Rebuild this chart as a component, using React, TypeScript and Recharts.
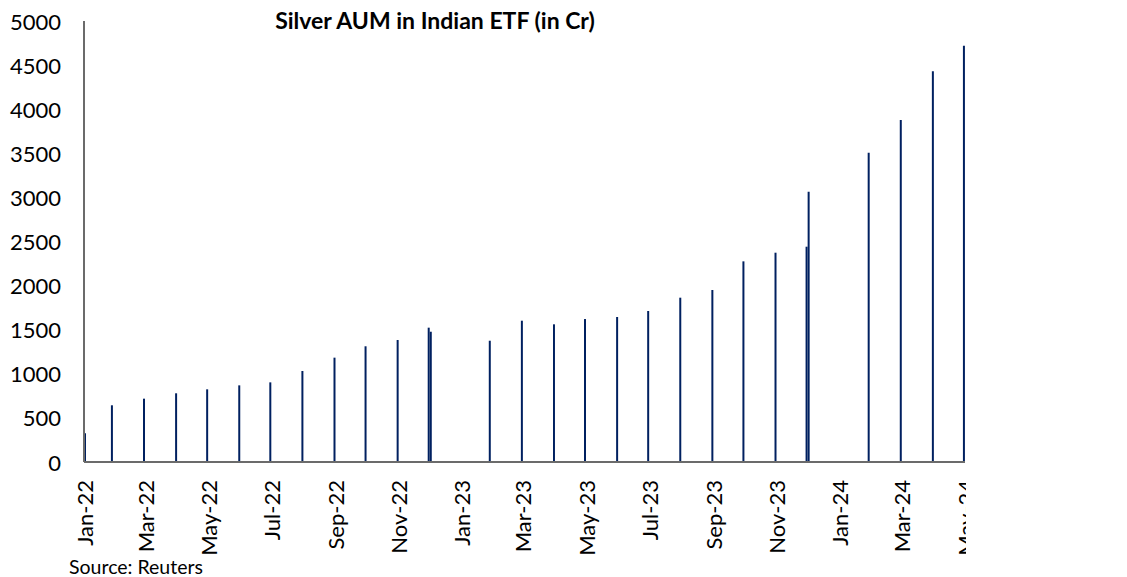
import React from "react";
import { BarChart, Bar, XAxis, YAxis } from "recharts";

// Observation dates (bars) and Silver AUM values (in Cr)
const obsDates = [
  "2022-01-02", "2022-01-28", "2022-02-28", "2022-03-31", "2022-04-30", "2022-05-31",
  "2022-06-30", "2022-07-31", "2022-08-31", "2022-09-30", "2022-10-31", "2022-11-30",
  "2022-12-02", "2023-01-28", "2023-02-28", "2023-03-31", "2023-04-30", "2023-05-31",
  "2023-06-30", "2023-07-31", "2023-08-31", "2023-09-30", "2023-10-31", "2023-11-30",
  "2023-12-02", "2024-01-29", "2024-02-29", "2024-03-31", "2024-04-30",
];
const aumValues = [
  325, 643, 718, 779, 824, 869,
  903, 1032, 1183, 1312, 1383, 1523,
  1477, 1375, 1602, 1561, 1621, 1644,
  1712, 1863, 1950, 2275, 2373, 2441,
  3065, 3507, 3878, 4430, 4720,
];
const xTickDates = [
  "2022-01-01", "2022-03-01", "2022-05-01", "2022-07-01", "2022-09-01", "2022-11-01",
  "2023-01-01", "2023-03-01", "2023-05-01", "2023-07-01", "2023-09-01", "2023-11-01",
  "2024-01-01", "2024-03-01", "2024-05-01",
];
const yTicks = [0, 500, 1000, 1500, 2000, 2500, 3000, 3500, 4000, 4500, 5000];
const monthNames = ["Jan", "Feb", "Mar", "Apr", "May", "Jun", "Jul", "Aug", "Sep", "Oct", "Nov", "Dec"];

const TITLE = "Silver AUM in Indian ETF (in Cr)";
const SOURCE = "Source: Reuters";

const toTs = (s: string) => {
  const [y, m, d] = s.split("-").map(Number);
  return Date.UTC(y, m - 1, d);
};
const fmt = (t: number) => {
  const d = new Date(t);
  return `${monthNames[d.getUTCMonth()]}-${String(d.getUTCFullYear()).slice(2)}`;
};

const data = obsDates.map((d, i) => ({ t: toTs(d), v: aumValues[i] }));
const xTicks = xTickDates.map(toTs);

const FONT = "Lato, 'Open Sans', sans-serif";
const AXIS_COLOR = "#6b6b6b";
const BAR_COLOR = "#002060";

const XTick = (props: any) => {
  const { x, payload } = props;
  const y0 = 480;
  return (
    <text
      x={x}
      y={y0}
      transform={`rotate(-90, ${x}, ${y0})`}
      textAnchor="end"
      dominantBaseline="central"
      fontFamily={FONT}
      fontSize={22}
      fill="#000"
    >
      {fmt(payload.value)}
    </text>
  );
};

const YTick = (props: any) => {
  const { y, payload } = props;
  return (
    <text
      x={61}
      y={y}
      textAnchor="end"
      dominantBaseline="central"
      fontFamily={FONT}
      fontSize={22}
      fill="#000"
    >
      {payload.value}
    </text>
  );
};

export default function App() {
  return (
    <div
      style={{
        position: "absolute",
        left: 0,
        top: 0,
        width: 1127,
        height: 577,
        background: "#fff",
        fontFamily: FONT,
        overflow: "hidden",
      }}
    >
      <div style={{ position: "absolute", left: 0, top: 0 }}>
        <BarChart
          width={966}
          height={577}
          data={data}
          margin={{ top: 21, right: 1, bottom: 0, left: 0 }}
        >
          <XAxis
            dataKey="t"
            type="number"
            domain={[xTicks[0], xTicks[xTicks.length - 1]]}
            ticks={xTicks}
            interval={0}
            height={115}
            tickLine={false}
            axisLine={{ stroke: AXIS_COLOR, strokeWidth: 2 }}
            tick={<XTick />}
            allowDataOverflow
          />
          <YAxis
            type="number"
            domain={[0, 5000]}
            ticks={yTicks}
            interval={0}
            width={84}
            tickLine={false}
            axisLine={{ stroke: AXIS_COLOR, strokeWidth: 2 }}
            tick={<YTick />}
          />
          <Bar dataKey="v" fill={BAR_COLOR} barSize={2} isAnimationActive={false} />
        </BarChart>
      </div>
      <div
        style={{
          position: "absolute",
          left: 435,
          top: 9,
          transform: "translateX(-50%)",
          fontSize: 23,
          lineHeight: 1,
          fontWeight: 700,
          whiteSpace: "nowrap",
          color: "#000",
        }}
      >
        {TITLE}
      </div>
      <div
        style={{
          position: "absolute",
          left: 69,
          top: 557,
          fontSize: 19.5,
          lineHeight: 1,
          whiteSpace: "nowrap",
          color: "#000",
        }}
      >
        {SOURCE}
      </div>
    </div>
  );
}
